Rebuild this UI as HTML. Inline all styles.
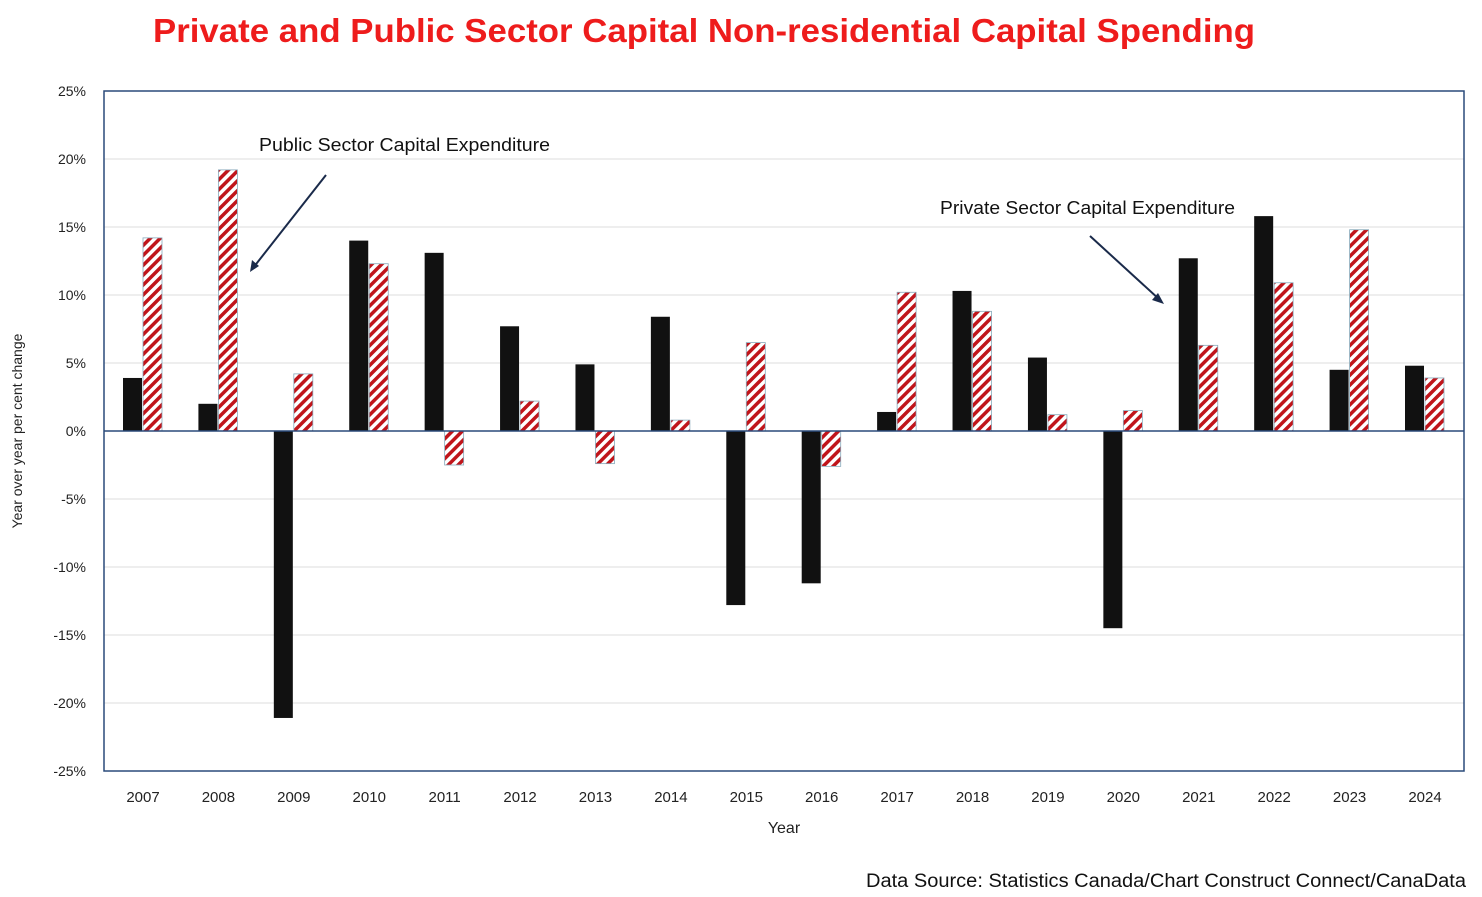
<!DOCTYPE html>
<html><head><meta charset="utf-8"><style>
body{margin:0;background:#fff;width:1482px;height:892px;overflow:hidden;font-family:"Liberation Sans",sans-serif}
</style></head><body>
<svg width="1482" height="892" xmlns="http://www.w3.org/2000/svg">
<defs>
<pattern id="hatch" patternUnits="userSpaceOnUse" width="7" height="7" patternTransform="rotate(45)">
<rect width="7" height="7" fill="#fff"/><rect width="3.5" height="7" fill="#c0151b"/>
</pattern>
</defs>
<text x="153" y="42" textLength="1102" lengthAdjust="spacingAndGlyphs" font-size="33" font-weight="bold" fill="#ee1c1c">Private and Public Sector Capital Non-residential  Capital Spending</text>
<g id="grid"></g>
<rect x="104" y="91" width="1360" height="680" fill="none" stroke="#2a4a7a" stroke-width="1.5"/>
<g id="bars"></g>
<line id="zero" stroke="#2a4a7a" stroke-width="1.5"/>
<g id="ticks" font-size="14" fill="#222"></g>
<text x="22" y="431" transform="rotate(-90 22 431)" text-anchor="middle" font-size="14" fill="#222">Year over year per cent change</text>
<text x="784" y="833" text-anchor="middle" font-size="16" fill="#222">Year</text>
<text x="259" y="151" textLength="291" lengthAdjust="spacingAndGlyphs" font-size="18" fill="#111">Public Sector Capital Expenditure</text>
<line x1="326" y1="175" x2="253" y2="268" stroke="#1a2a4a" stroke-width="2"/>
<polygon points="250,272 252,260 259,266" fill="#1a2a4a"/>
<text x="940" y="214" textLength="295" lengthAdjust="spacingAndGlyphs" font-size="18" fill="#111">Private Sector Capital Expenditure</text>
<line x1="1090" y1="236" x2="1160" y2="300" stroke="#1a2a4a" stroke-width="2"/>
<polygon points="1164,304 1152,300 1158,293" fill="#1a2a4a"/>
<text x="866" y="887" textLength="600" lengthAdjust="spacingAndGlyphs" font-size="19" fill="#111">Data Source: Statistics Canada/Chart  Construct Connect/CanaData</text>
</svg>
<script>
const years=["2007","2008","2009","2010","2011","2012","2013","2014","2015","2016","2017","2018","2019","2020","2021","2022","2023","2024"];
const privateVals=[3.9,2.0,-21.1,14.0,13.1,7.7,4.9,8.4,-12.8,-11.2,1.4,10.3,5.4,-14.5,12.7,15.8,4.5,4.8];
const publicVals=[14.2,19.2,4.2,12.3,-2.5,2.2,-2.4,0.8,6.5,-2.6,10.2,8.8,1.2,1.5,6.3,10.9,14.8,3.9];
const yTicks=[25,20,15,10,5,0,-5,-10,-15,-20,-25];
const NS="http://www.w3.org/2000/svg";
const plotTop=91,plotBot=771,plotLeft=104,plotRight=1464;
function yS(v){return plotTop+(25-v)/50*(plotBot-plotTop);}
function xc(i){return 143+i*(1425-143)/(years.length-1);}
function mk(t,a,p){const e=document.createElementNS(NS,t);for(const k in a)e.setAttribute(k,a[k]);p.appendChild(e);return e;}
const grid=document.getElementById('grid'),bars=document.getElementById('bars'),ticks=document.getElementById('ticks');
yTicks.forEach(t=>{
 const l=mk('line',{x1:plotLeft,x2:plotRight,y1:yS(t),y2:yS(t),stroke:'#dcdcdc','stroke-width':1},grid);
 
 
 const tx=mk('text',{x:86,y:yS(t)+5,'text-anchor':'end'},ticks);tx.textContent=t+'%';
 
 
});
years.forEach((yr,i)=>{
 const c=xc(i);
 const v=privateVals[i];
 const b=mk('rect',{x:c-20,y:Math.min(yS(v),yS(0)),width:19,height:Math.abs(yS(v)-yS(0)),fill:'#111'},bars);
 
 
 const w=publicVals[i];
 const h=mk('rect',{x:c,y:Math.min(yS(w),yS(0)),width:19,height:Math.abs(yS(w)-yS(0)),fill:'url(#hatch)',stroke:'#8ab','stroke-width':0.8},bars);
 
 
 const tx=mk('text',{x:c,y:802,'text-anchor':'middle','font-size':15},ticks);tx.textContent=yr;
 
 
});
const z=document.getElementById('zero');z.setAttribute('x1',plotLeft);z.setAttribute('x2',plotRight);z.setAttribute('y1',yS(0));z.setAttribute('y2',yS(0));
</script>
</body></html>
